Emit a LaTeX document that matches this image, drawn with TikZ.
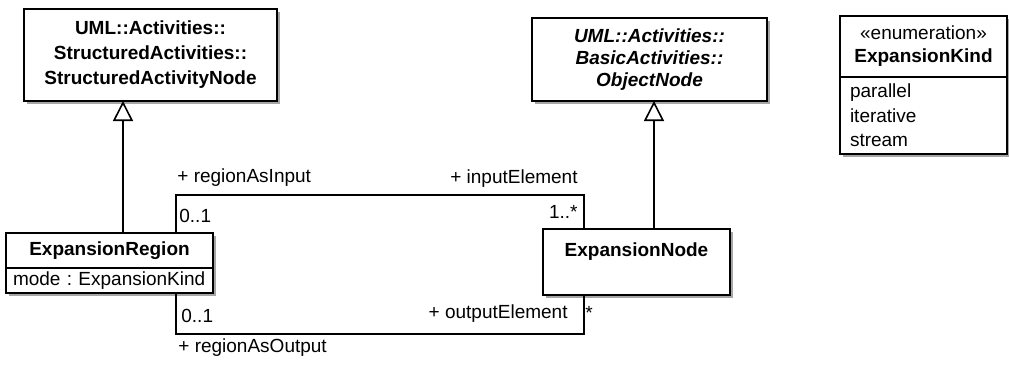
\documentclass[tikz,border=0pt]{standalone}
\usepackage{fontspec}
\setmainfont{Liberation Sans}
\usetikzlibrary{arrows.meta,positioning,calc,shadows}
\newcommand{\umlsize}{\fontsize{9.5pt}{12.5pt}\selectfont}
\frenchspacing

\begin{document}
\begin{tikzpicture}[
  x=0.5pt, y=-0.5pt,
  font=\umlsize,
  cls/.style={rectangle, draw=black, line width=1pt, fill=white, outer sep=0pt,
              align=center, inner sep=2pt,
              drop shadow={shadow xshift=1.5pt, shadow yshift=-1.5pt,
                           fill=black!35, opacity=1}},
  attrs/.style={cls, align=left, inner xsep=3.5pt, inner ysep=1pt},
  gen/.style={-{Triangle[open, length=10pt, width=10pt]}, line width=0.8pt},
  assoc/.style={line width=0.8pt},
  role/.style={inner sep=0pt},
]
\useasboundingbox (0,0) rectangle (1009,365);

% Superclasses
\node[cls, font=\umlsize\bfseries, minimum width=126.5pt, minimum height=46pt] (san)
  at (150.5,55) {UML::Activities::\\StructuredActivities::\\StructuredActivityNode};
\node[cls, font=\fontsize{9.5pt}{11pt}\selectfont\bfseries\itshape,
      minimum width=117.5pt, minimum height=41.5pt] (objn)
  at (649.5,59.5) {UML::Activities::\\BasicActivities::\\ObjectNode};

% Enumeration
\node[cls, font=\fontsize{9.5pt}{11.5pt}\selectfont, minimum width=83.5pt, minimum height=30.5pt] (kindH)
  at (923.5,46.5) {«enumeration»\\\textbf{ExpansionKind}};
\node[attrs, below=0pt of kindH, inner xsep=5pt, text width=73.5pt, minimum height=38.5pt,
      font=\fontsize{9.5pt}{12.25pt}\selectfont] (kindB)
  {parallel\\iterative\\stream};

% Classes
\node[cls, minimum width=103.5pt, minimum height=17.5pt] (regionH)
  at (109.5,250.5) {\textbf{ExpansionRegion}};
\node[attrs, below=0pt of regionH, text width=96.5pt, minimum height=12.5pt] (regionA)
  {\mbox{mode : ExpansionKind}};
\node[cls, minimum width=93.5pt, minimum height=33pt] (expnode)
  at (636.5,262) {\textbf{ExpansionNode}\\\mbox{}};

% Generalizations
\coordinate (genR) at ($(regionH.north west)+(117,0)$);
\coordinate (genN) at ($(expnode.north west)+(111,0)$);
\draw[gen] (genR) -- (genR |- san.south);
\draw[gen] (genN) -- (genN |- objn.south);

% Associations
\coordinate (inL) at ($(regionH.north west)+(170,0)$);
\coordinate (inR) at ($(expnode.north west)+(41,0)$);
\coordinate (outL) at ($(regionA.south west)+(170,0)$);
\coordinate (outR) at ($(expnode.south west)+(41,0)$);
\draw[assoc] (inL) -- ++(0,-38) -| (inR);
\draw[assoc] (outL) -- ++(0,41) -| (outR);

% Role names and multiplicities
\node[role, anchor=base west] (inRole) at (177,182) {+ regionAsInput};
\node[role, anchor=base east] (inElem) at (578,183) {+ inputElement};
\node[role, anchor=base west] (inMultL) at (179,222) {0..1};
\node[role, anchor=base east] (inMultR) at (578,218) {1..*};
\node[role, anchor=base west] (outMultL) at (181,322) {0..1};
\node[role, anchor=base east] (outElem) at (568,318) {+ outputElement};
\node[role, anchor=north west] (outMultR) at (585,306) {*};
\node[role, anchor=base west] (outRole) at (178,352) {+ regionAsOutput};
\end{tikzpicture}
\end{document}
